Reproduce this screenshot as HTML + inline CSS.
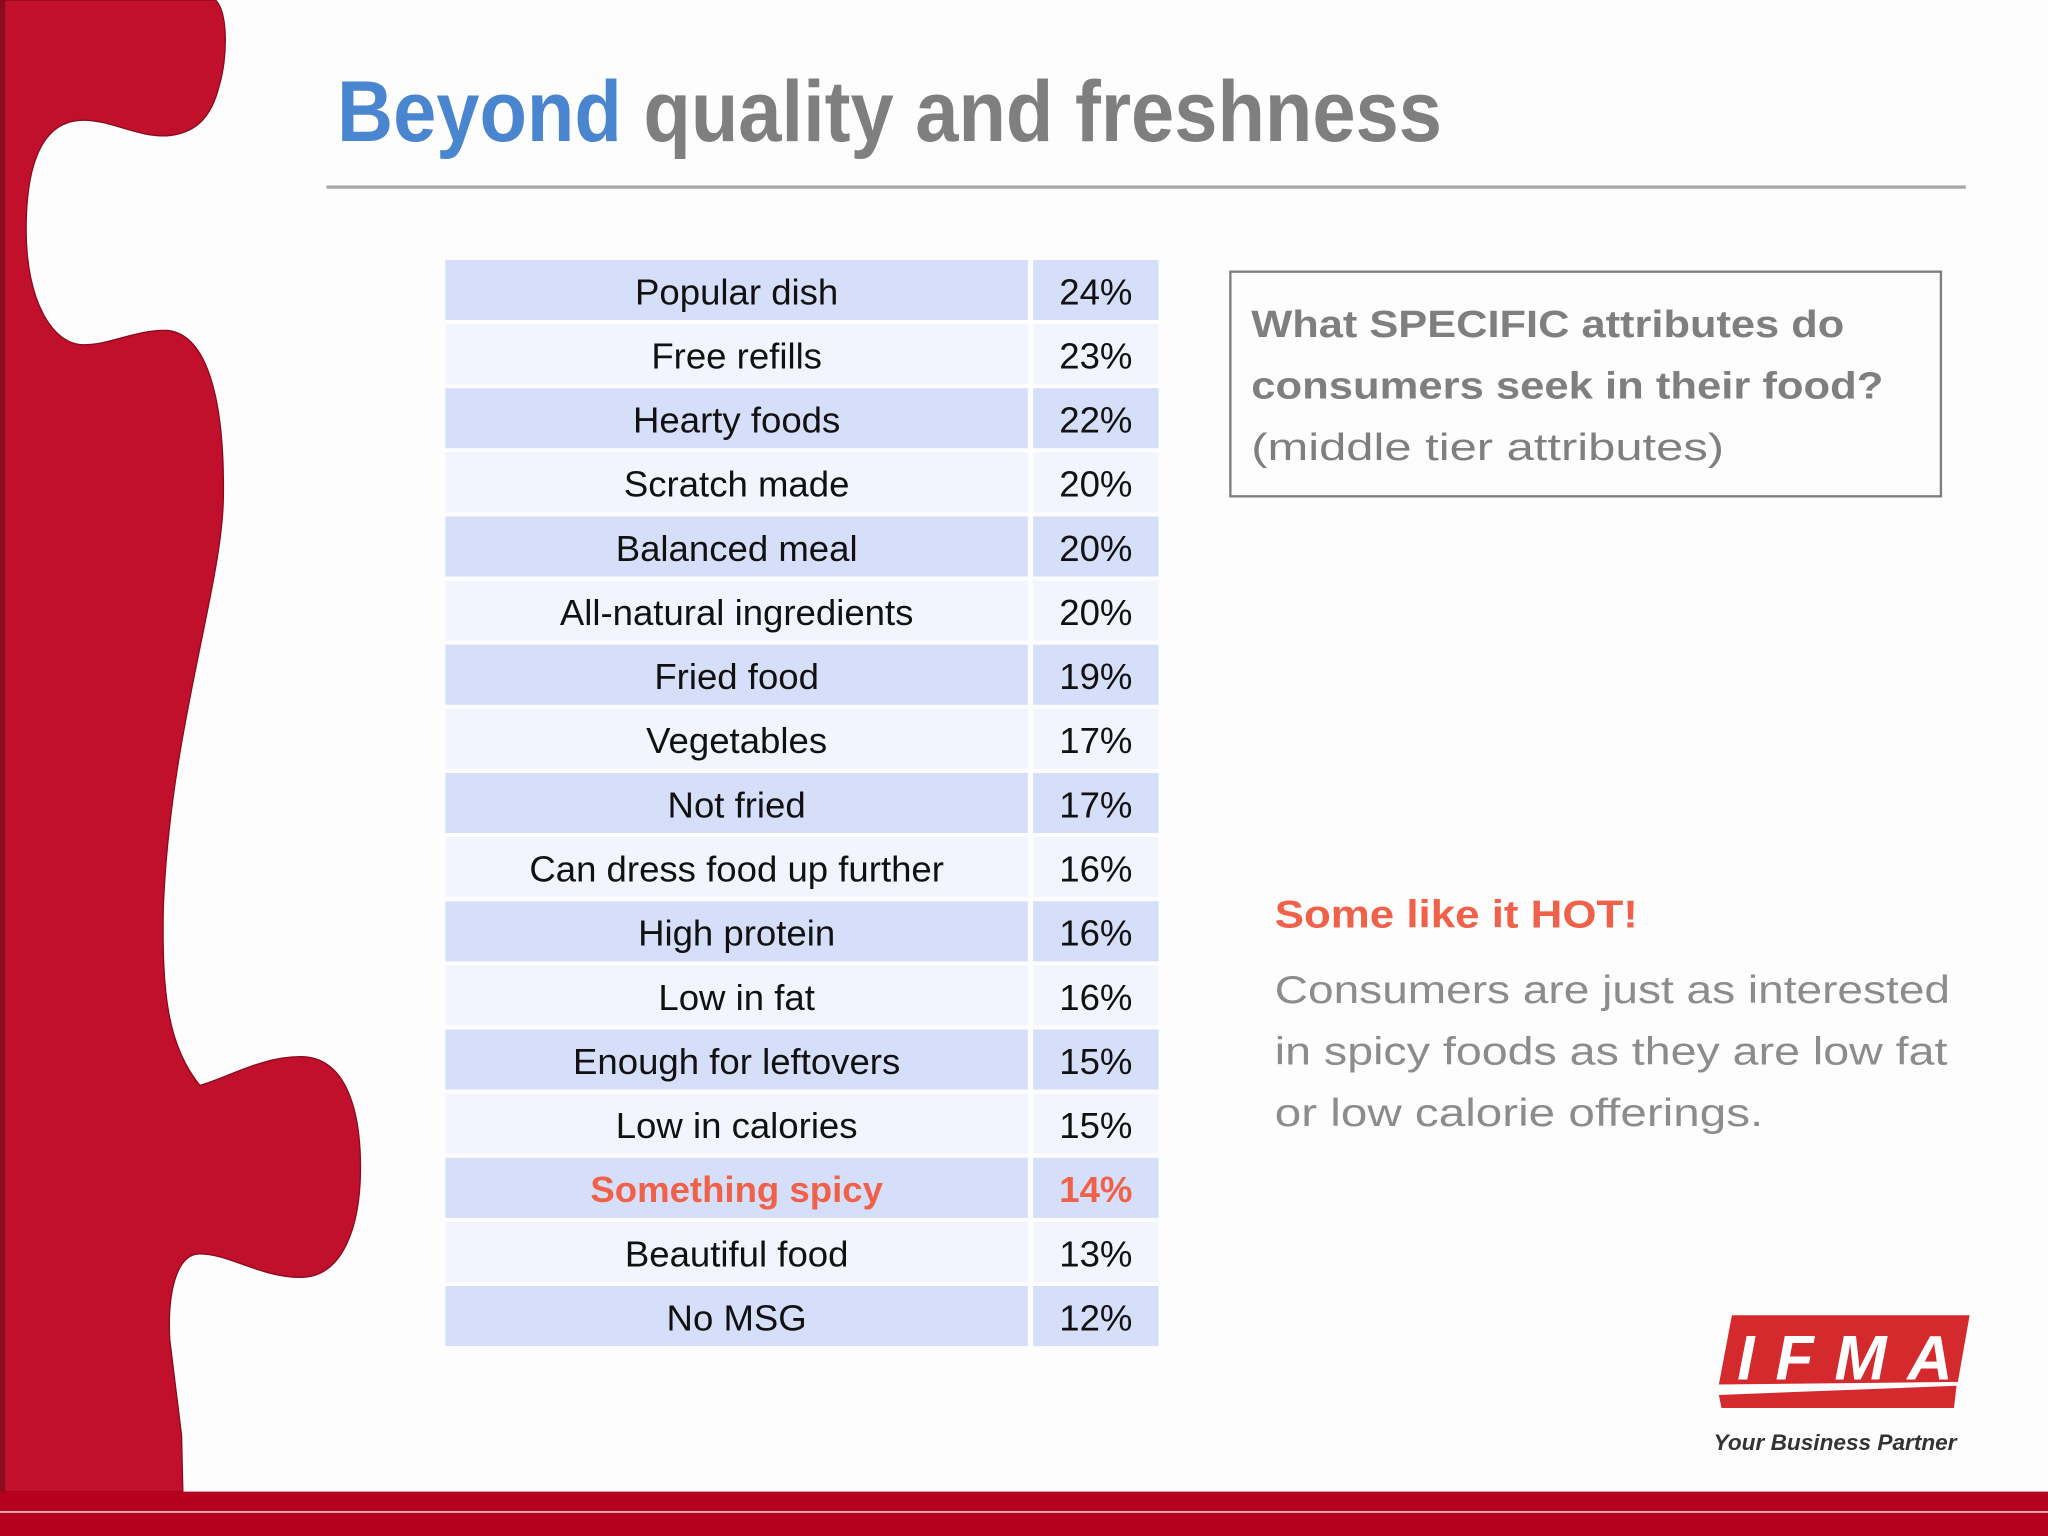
<!DOCTYPE html>
<html><head><meta charset="utf-8"><style>
html,body{margin:0;padding:0;background:#fff;}
svg{display:block;font-family:"Liberation Sans",Arial,sans-serif;}
</style></head><body>
<svg id="slide" width="2048" height="1536" viewBox="0 0 1568 1176" xmlns="http://www.w3.org/2000/svg">
<rect width="1568" height="1176" fill="#fdfdfe"/>
<path fill="#c0102c" stroke="#8a0a1e" stroke-width="1" d="M0,0 L165,0 C175,10 174,45 168,65 C162,90 150,102 128,104 C105,105 85,92 64,92 C35,92 20,120 20,176 C20,230 40,264 64,264 C85,264 105,252 128,253 C160,256 172,310 171,381 C170,450 130,560 125,696 C124,760 128,800 153,831 C175,825 200,809 230,809 C265,809 276,850 276,894 C276,940 262,978 230,978 C200,978 175,960 153,960 C135,960 128,990 130,1026 L139,1099 L140,1142 L0,1142 Z"/>
<rect x="0" y="0" width="4" height="1142" fill="#8a0a1e"/>
<text x="258" y="108" font-size="66" font-weight="bold" textLength="846" lengthAdjust="spacingAndGlyphs"><tspan fill="#4a86d0">Beyond</tspan><tspan fill="#7f7f7f"> quality and freshness</tspan></text>
<rect x="250" y="142" width="1255" height="2.5" fill="#a6a6a6"/>
<g id="table"></g>
<rect x="942" y="208" width="544" height="172" fill="none" stroke="#7f7f7f" stroke-width="1.8"/>
<g fill="#7f7f7f" font-size="29">
<text x="958" y="258" font-weight="bold" textLength="454" lengthAdjust="spacingAndGlyphs">What SPECIFIC attributes do</text>
<text x="958" y="305" font-weight="bold" textLength="484" lengthAdjust="spacingAndGlyphs">consumers seek in their food?</text>
<text x="958" y="352" textLength="362" lengthAdjust="spacingAndGlyphs">(middle tier attributes)</text>
</g>
<text x="976" y="710" font-size="30" font-weight="bold" fill="#f0614a" textLength="278" lengthAdjust="spacingAndGlyphs">Some like it HOT!</text>
<g fill="#8c8c8c" font-size="30">
<text x="976" y="768" textLength="517" lengthAdjust="spacingAndGlyphs">Consumers are just as interested</text>
<text x="976" y="815" textLength="515" lengthAdjust="spacingAndGlyphs">in spicy foods as they are low fat</text>
<text x="976" y="862" textLength="374" lengthAdjust="spacingAndGlyphs">or low calorie offerings.</text>
</g>
<g>
<polygon points="1326,1007 1508,1007 1499,1058 1316,1060" fill="#d42a2e"/>
<polygon points="1316,1068 1498,1061 1496,1078 1318,1078" fill="#d42a2e"/>
<text x="1330" y="1056" font-size="48" font-style="italic" font-weight="bold" fill="#fff" textLength="165" lengthAdjust="spacing">IFMA</text>
<text x="1312" y="1110" font-size="17" font-style="italic" font-weight="bold" fill="#333" textLength="186" lengthAdjust="spacingAndGlyphs">Your Business Partner</text>
</g>
<rect x="0" y="1142" width="1568" height="34" fill="#b5001e"/>
<rect x="0" y="1157" width="1568" height="1.2" fill="#f4d0d5"/>
</svg>
<script>
const labels=["Popular dish","Free refills","Hearty foods","Scratch made","Balanced meal","All-natural ingredients","Fried food","Vegetables","Not fried","Can dress food up further","High protein","Low in fat","Enough for leftovers","Low in calories","Something spicy","Beautiful food","No MSG"];
const values=[24,23,22,20,20,20,19,17,17,16,16,16,15,15,14,13,12];
const highlightIndex=14;
const NS="http://www.w3.org/2000/svg";
const g=document.getElementById('table');
const top0=199,pitch=49.1;
function rowY(i){return top0+i*pitch;}
labels.forEach((lab,i)=>{
  const y=rowY(i);
  const fill=i%2===0?"#d6dffa":"#f2f5fd";
  const r1=document.createElementNS(NS,'rect');
  
  
  r1.setAttribute('x',341);r1.setAttribute('y',y);r1.setAttribute('width',446);r1.setAttribute('height',46);r1.setAttribute('fill',fill);
  g.appendChild(r1);
  const r2=document.createElementNS(NS,'rect');
  
  
  r2.setAttribute('x',791);r2.setAttribute('y',y);r2.setAttribute('width',96);r2.setAttribute('height',46);r2.setAttribute('fill',fill);
  g.appendChild(r2);
  const col=i===highlightIndex?"#f0614a":"#111";
  const t1=document.createElementNS(NS,'text');
  
  
  t1.setAttribute('x',564);t1.setAttribute('y',y+34);t1.setAttribute('text-anchor','middle');t1.setAttribute('font-size','28');t1.setAttribute('fill',col);
  if(i===highlightIndex)t1.setAttribute('font-weight','bold');
  t1.textContent=lab;g.appendChild(t1);
  const t2=document.createElementNS(NS,'text');
  
  
  t2.setAttribute('x',839);t2.setAttribute('y',y+34);t2.setAttribute('text-anchor','middle');t2.setAttribute('font-size','28');t2.setAttribute('fill',col);
  if(i===highlightIndex)t2.setAttribute('font-weight','bold');
  t2.textContent=values[i]+'%';g.appendChild(t2);
});
</script>
</body></html>
